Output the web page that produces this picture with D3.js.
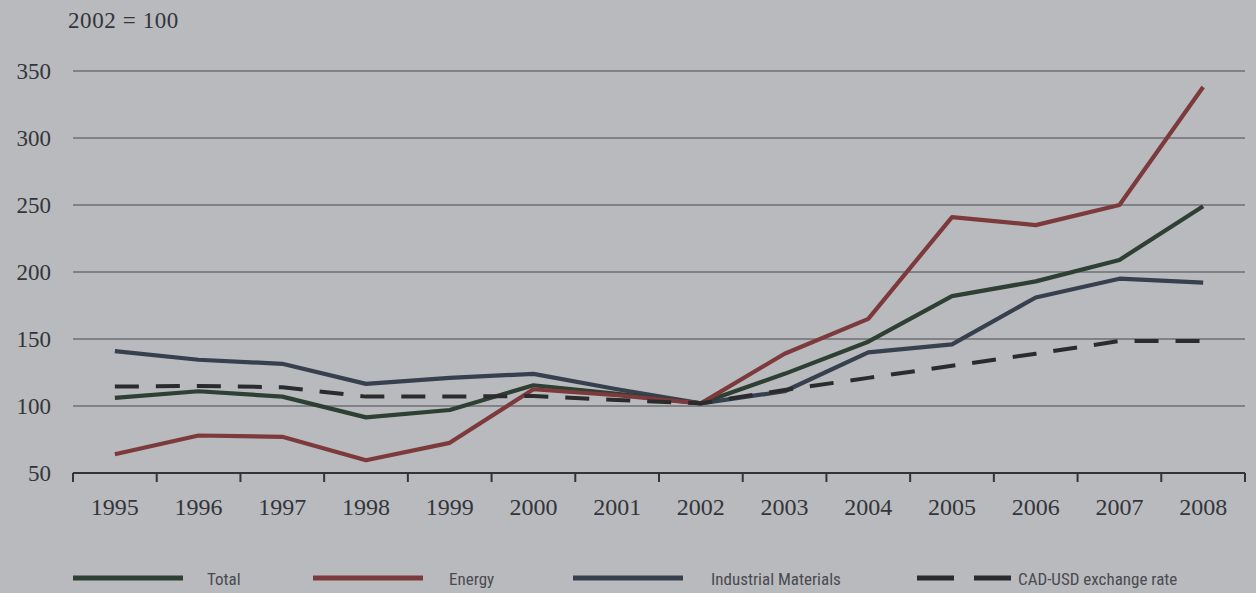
<!DOCTYPE html>
<html><head><meta charset="utf-8">
<script src="https://cdn.jsdelivr.net/npm/d3@7"></script>
<style>
html,body{margin:0;padding:0;background:#b8babd;}
svg{display:block;}
</style></head>
<body>
<script>
const years = ["1995","1996","1997","1998","1999","2000","2001","2002","2003","2004","2005","2006","2007","2008"];
const total = [106, 111, 107, 91.5, 97, 115.5, 109, 102, 124, 148, 182, 193, 209, 249];
const energy = [64, 78, 77, 59.5, 72.5, 112.5, 108, 102, 139, 165, 241, 235, 250, 338];
const industrial = [141, 134.5, 131.5, 116.5, 121, 124, 112.5, 102, 111, 140, 146, 181, 195, 192];
const cadusd = [114.5, 115, 114, 107, 107, 107.5, 104.5, 102, 112, 121, 130, 139, 148.5, 148.5];
const yTicks = [50, 100, 150, 200, 250, 300, 350];
const seriesNames = ["Total", "Energy", "Industrial Materials", "CAD-USD exchange rate"];
const seriesColors = ["#2e3f33", "#7d3a3c", "#36404f", "#2a2b2d"];

const W = 1256, H = 593;
const svg = d3.select("body").append("svg").attr("width", W).attr("height", H);
svg.append("rect").attr("width", W).attr("height", H).attr("fill", "#b8babd");

const x = d3.scaleBand().domain(years).range([73, 1245]);
const y = d3.scaleLinear().domain([50, 350]).range([473, 71]);
const xc = d => x(d) + x.bandwidth() / 2;

const serif = "'Liberation Serif', 'DejaVu Serif', serif";
const textCol = "#34353a";

// gridlines
svg.append("g").selectAll("line").data(yTicks.filter(t => t > 50)).join("line")
  .attr("x1", 73).attr("x2", 1245)
  .attr("y1", d => y(d)).attr("y2", d => y(d))
  .attr("stroke", "#4a4b4e").attr("stroke-width", 1.1);

// y labels
svg.append("g").selectAll("text").data(yTicks).join("text")
  .attr("x", 51).attr("y", d => y(d) + 8).attr("text-anchor", "end")
  .attr("font-family", serif).attr("font-size", 23).attr("fill", textCol)
  .text(d => d);

svg.append("text").attr("x", 68).attr("y", 28)
  .attr("font-family", serif).attr("font-size", 23).attr("fill", textCol)
  .attr("letter-spacing", 0.6)
  .text("2002 = 100");

// x axis
const xAxis = svg.append("g").attr("transform", `translate(0,${y(50)})`)
  .call(d3.axisBottom(x).tickSize(0).tickPadding(25));
xAxis.select(".domain").remove();
xAxis.selectAll("text").attr("font-family", serif).attr("font-size", 24).attr("fill", textCol);
svg.append("line").attr("x1", 73).attr("x2", 1245).attr("y1", y(50)).attr("y2", y(50))
  .attr("stroke", "#333436").attr("stroke-width", 2);
const bounds = years.map(d => x(d)).concat([x.range()[1]]);
svg.append("g").selectAll("line").data(bounds).join("line")
  .attr("x1", d => d).attr("x2", d => d)
  .attr("y1", y(50)).attr("y2", y(50) + 9)
  .attr("stroke", "#333436").attr("stroke-width", 2);

// lines
const line = d3.line().x((d, i) => xc(years[i])).y(d => y(d));
const data = [total, energy, industrial, cadusd];
[industrial, total, energy].forEach(s => {
  const idx = data.indexOf(s);
  svg.append("path").datum(s).attr("d", line).attr("fill", "none")
    .attr("stroke", seriesColors[idx]).attr("stroke-width", 4.2)
    .attr("stroke-linejoin", "round");
});
svg.append("path").datum(cadusd).attr("d", line).attr("fill", "none")
  .attr("stroke", seriesColors[3]).attr("stroke-width", 4)
  .attr("stroke-dasharray", "24,17");

// legend
const legX = [73, 313, 573, 917];
const legTextX = [207, 449, 711, 1018];
const sans = "'Liberation Sans Narrow', 'Roboto Condensed', 'DejaVu Sans Condensed', sans-serif";
seriesNames.forEach((n, i) => {
  const g = svg.append("g");
  if (i < 3) {
    g.append("line").attr("x1", legX[i]).attr("x2", legX[i] + 110).attr("y1", 578).attr("y2", 578)
      .attr("stroke", seriesColors[i]).attr("stroke-width", 5);
  } else {
    g.append("line").attr("x1", legX[i]).attr("x2", legX[i] + 96).attr("y1", 578).attr("y2", 578)
      .attr("stroke", seriesColors[i]).attr("stroke-width", 5).attr("stroke-dasharray", "37,20");
  }
  g.append("text").attr("x", legTextX[i]).attr("y", 585)
    .attr("font-family", sans).attr("font-size", 17).attr("fill", "#4a4b50").text(n);
});
</script>
</body></html>
